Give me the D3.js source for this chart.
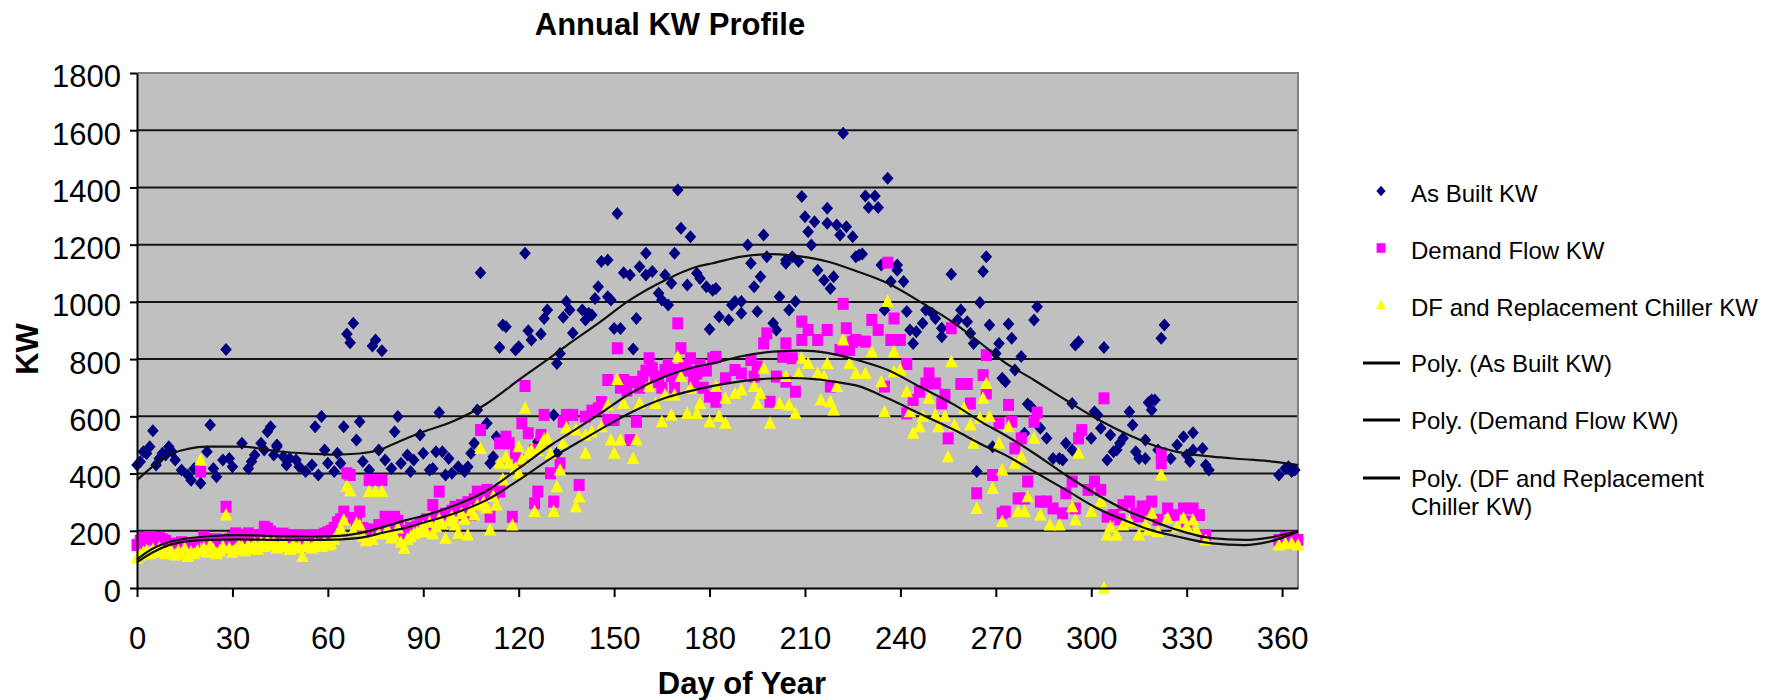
<!DOCTYPE html>
<html>
<head>
<meta charset="utf-8">
<script src="https://cdn.jsdelivr.net/npm/d3@7"></script>
<style>
  body { margin: 0; background: #fff; }
  svg text { font-family: "Liberation Sans", Arial, Helvetica, sans-serif; }
</style>
</head>
<body>
<svg id="chart" width="1771" height="700"></svg>
<script>
/*
 Annual KW profile - scatter of daily peak KW with polynomial trendlines
*/

const xTicks = [0, 30, 60, 90, 120, 150, 180, 210, 240, 270, 300, 330, 360];
const yTicks = [0, 200, 400, 600, 800, 1000, 1200, 1400, 1600, 1800];
const seriesNames = ["As Built KW", "Demand Flow KW", "DF and Replacement Chiller KW"];
const trendNames = [["Poly. (As Built KW)"], ["Poly. (Demand Flow KW)"],
                    ["Poly. (DF and Replacement", "Chiller KW)"]];

// [day of year, KW]
const asBuiltKW = [
  [0,430],[1,441],[2,476],[3,470],[4,494],[5,550],[6,430],[7,453],[8,471],[9,465],[10,494],[11,476],[12,447],[14,412],[16,395],[17,377],[18,418],[20,366],[22,476],[23,570],[24,418],[25,389],[27,447],[28,834],[29,453],[30,424],[33,506],[35,418],[36,442],[37,465],[39,506],[40,482],[41,546],[42,564],[43,465],[44,500],
  [44,494],[46,459],[47,430],[48,453],[50,447],[51,424],[53,407],[55,430],[56,564],[57,395],[58,599],[59,482],[60,436],[62,407],[63,471],[64,436],[65,564],[66,888],[67,857],[68,925],[69,517],[70,581],[71,442],[73,412],[74,846],[75,867],[76,482],[77,829],[78,447],[80,418],[81,546],[82,599],[83,436],[85,465],[86,407],[87,447],[89,535],[90,471],
  [92,412],[93,418],[94,476],[95,613],[96,476],[97,395],[98,453],[99,401],[101,424],[103,407],[104,424],[105,471],[106,506],[107,622],[108,1102],[110,576],[111,436],[112,459],[113,529],[114,841],[115,919],[116,913],[119,832],[120,843],[122,1170],[123,899],[124,867],[126,511],[127,888],[128,942],[129,972],[131,605],[132,785],[132,471],[133,820],
  [134,946],[135,1001],[136,972],[137,891],[140,972],[141,937],[142,960],[143,954],[144,1012],[145,1053],[146,1141],[148,1146],[148,1018],[149,1007],[150,907],[151,1309],[152,907],[153,1102],[155,1094],[156,835],[157,942],[158,1123],[160,1094],[160,1170],[162,1106],[164,1030],[165,1007],[166,1094],[167,989],[168,1065],[169,1170],[170,1391],[171,1257],[173,1059],[174,1228],[176,1100],[177,1082],[179,1053],[180,904],[181,1041],
  [182,1047],[183,948],[186,937],[187,989],[188,1001],[190,960],[190,1001],[192,1199],[193,1135],[194,1053],[195,966],[196,1088],[197,1234],[198,1158],[200,925],[201,902],[202,1018],[204,1146],[204,1135],[205,972],[206,1158],[207,1001],[208,1141],[209,1368],[210,1298],[211,1245],[212,1199],[213,1280],[214,1111],[216,1076],[217,1327],[217,1275],[218,1047],[219,1088],[220,1269],[221,1234],[222,1589],[223,1263],[225,1228],[226,1158],
  [227,1164],[228,1167],[229,1370],[230,1330],[232,1370],[233,1330],[234,1129],[235,972],[236,1432],[237,1071],[239,1129],[239,1111],[241,1071],[242,966],[243,902],[244,855],[245,896],[247,925],[248,972],[250,960],[251,942],[253,908],[253,878],[256,1097],[258,937],[259,972],[261,931],[262,890],[263,855],[264,407],[265,998],[266,1106],[267,1158],[268,919],[269,494],[270,820],[271,855],[272,733],
  [273,721],[274,923],[275,873],[276,762],[278,809],[279,541],[280,643],[281,634],[282,937],[283,983],[284,558],[286,523],[288,453],[290,453],[291,447],[292,506],[294,645],[294,482],[295,849],[296,861],[300,523],[301,616],[302,605],[303,558],[304,841],[305,447],[306,535],[307,476],[308,482],[309,506],[310,523],[312,616],[313,570],[314,476],[315,453],
  [317,453],[317,517],[318,648],[319,622],[319,657],[320,657],[321,482],[322,873],[323,919],[325,453],[327,500],[329,529],[330,465],[331,442],[332,482],[332,543],[335,488],[336,430],[337,412],
  [359,395],[361,418],[362,424],[363,407],[364,412]
];

const demandFlowKW = [
  [0,150],[1,165],[2,175],[3,170],[4,178],[5,172],[6,168],[7,175],[8,170],[9,165],[10,150],[11,145],[12,155],[13,150],[14,160],[15,145],[16,140],[17,150],[18,155],[20,407],[21,179],[22,170],[23,165],[24,160],[25,170],[26,160],[27,165],[28,284],[29,170],[30,175],[31,191],[32,185],[33,175],[34,180],[35,191],[36,185],[37,175],[38,180],[39,185],[40,214],[41,208],[42,197],[43,190],[44,185],[45,180],[46,190],[47,178],[48,185],[49,180],[50,175],[51,185],[52,170],[53,180],[54,175],[55,185],[56,180],[57,175],[58,185],[59,190],[60,195],[61,200],[62,210],[63,230],[64,240],[65,267],[66,401],[67,395],[68,245],[69,230],[70,267],[71,210],[72,200],[73,377],[74,205],[75,377],[76,220],[77,377],[78,249],[79,230],[80,215],[81,249],[82,235],[83,200],[84,180],[85,190],[86,210],[87,200],[88,215],[89,225],[90,230],
  [91,240],[92,220],[93,290],[94,250],[95,337],[96,232],[97,260],[98,245],[99,270],[100,284],[101,280],[102,290],[103,255],[104,300],[105,255],[106,310],[107,337],[108,552],[109,320],[110,343],[111,249],[112,330],[114,337],[114,506],[116,529],[117,506],[118,249],[119,471],[120,447],[121,576],[122,706],[123,541],[125,482],[125,296],[126,337],[127,535],[128,605],[130,401],[131,302],[133,436],[134,581],[135,605],
  [137,605],[139,360],[141,599],[143,620],[145,628],[146,650],[148,587],[148,727],[150,587],[151,838],[152,700],[153,727],[154,690],[155,517],[156,720],[157,581],[158,700],[159,739],[160,760],[161,803],[162,768],[163,740],[164,720],[165,700],[166,762],[167,780],[168,740],[169,700],[170,925],[170,762],[171,838],[172,780],[173,760],[174,803],[175,720],[176,750],[177,780],[178,700],[179,760],[180,669],[181,803],
  [182,651],[182,680],[182,808],[185,733],[188,762],[190,750],[193,797],[194,739],[195,774],[197,855],[198,890],[199,651],[201,739],[203,808],[204,855],[204,721],[206,803],[207,686],[209,931],[209,867],[211,902],[214,867],[217,902],[218,704],[221,832],[222,993],[223,908],[224,832],[225,861],[226,867],
  [229,861],[231,937],[233,902],[235,704],[236,1137],[237,867],[238,942],[240,867],[242,783],[242,610],[244,657],[246,686],[248,715],[249,750],[251,715],[253,645],[254,675],[255,523],[256,908],[259,713],[261,713],[262,645],[264,331],[266,744],[267,814],[267,680],[269,395],[271,576],[272,261],
  [273,267],[274,640],[275,581],[276,488],[277,313],[278,523],[279,313],[280,372],[282,581],[283,613],[284,302],[286,302],[288,278],[291,261],[292,331],[294,372],[295,278],[296,523],[297,552],[299,343],[301,372],[303,343],[304,663],[305,249],[307,255],[309,240],[310,290],[312,302],[314,261],[315,250],[316,285],[317,273],
  [319,302],[321,238],[322,436],[322,471],[324,278],[326,255],[329,278],[330,232],[332,278],[334,255],[336,185],
  [359,168],[361,174],[363,179],[365,168]
];

const dfReplacementKW = [
  [0,105],[1,115],[2,125],[3,130],[4,120],[5,135],[6,125],[7,140],[8,130],[9,120],[10,135],[11,125],[12,115],[13,130],[14,120],[15,140],[16,110],[17,125],[18,120],[19,130],[20,447],[21,140],[22,125],[23,150],[24,135],[25,120],[26,130],[27,145],[28,255],[29,140],[30,125],[31,135],[32,150],[33,145],[34,130],[35,150],[36,140],[37,155],[38,135],[39,160],[40,145],[41,165],[42,150],[43,160],[44,140],[45,150],[46,155],[47,145],[48,135],[49,150],[50,140],[51,145],[52,110],[53,150],[54,145],[55,140],[56,155],[57,150],[58,145],[59,160],[60,150],[61,155],[62,170],[63,190],[64,210],[65,238],[66,356],[67,340],[68,200],[69,226],[70,220],[71,180],[72,165],[73,337],[74,170],[75,337],[76,190],[77,337],[78,190],[79,200],[80,175],[81,185],[82,210],[83,160],[84,139],[85,170],[86,180],[87,190],[88,195],[89,200],[90,215],
  [91,197],[92,230],[93,190],[94,214],[95,240],[96,225],[97,174],[98,235],[99,250],[100,220],[101,191],[102,260],[103,240],[104,185],[105,270],[106,255],[107,290],[108,488],[109,300],[110,280],[111,203],[112,320],[113,290],[114,436],[115,380],[116,459],[117,436],[118,220],[119,420],[120,401],[120,494],[121,450],[122,628],[123,470],[124,482],[125,267],[126,480],[127,500],[128,520],[129,523],[130,470],[131,267],[132,354],[133,412],[134,506],[135,560],
  [138,552],[138,284],[139,319],[141,535],[141,471],[143,546],[146,564],[148,640],[149,517],[150,471],[151,729],[152,517],[153,645],[156,453],[157,517],[158,645],[161,704],[163,645],[165,581],[166,675],[168,605],[169,675],[170,808],[171,739],[173,610],[174,698],[176,610],[177,645],[180,581],
  [182,704],[183,599],[185,663],[185,576],[188,680],[190,692],[194,704],[195,645],[196,680],[197,768],[199,576],[202,645],[204,739],[205,640],[207,610],[208,750],[209,803],[211,785],[214,750],[215,657],[216,739],[217,785],[218,651],[219,622],[220,704],[222,867],[224,785],
  [226,750],[229,750],[231,826],[234,721],[235,616],[236,1001],[238,826],[238,756],[240,762],[242,686],[243,616],[244,541],[246,564],[247,599],[249,663],[251,605],[252,564],[254,599],[255,459],[256,791],[257,570],[260,628],[262,570],[263,506],[264,278],[265,593],[266,663],[267,715],[268,599],[269,348],[271,506],[272,412],[272,232],
  [274,564],[276,436],[277,267],[278,459],[279,267],[280,319],[282,523],[284,255],[287,220],[290,220],[294,284],[295,238],[296,471],[300,267],[303,302],[304,0],[305,185],[306,214],[308,185],[310,220],[312,232],[315,185],[317,220],
  [318,203],[319,261],[321,197],[322,395],[324,244],[327,214],[329,244],[330,214],[332,238],[333,203],[336,168],
  [359,150],[361,156],[363,156],[365,150]
];

// polynomial trendlines
const asBuiltPoly = [[0,377],[5,425],[11,470],[16,486],[22,494],[33,494],[44,478],[54,470],[62,466],[70,470],[76,482],[83,515],[90,546],[99,581],[110,645],[120,727],[131,814],[136,855],[145,925],[155,1007],[166,1076],[176,1123],[181,1135],[190,1158],[200,1167],[209,1158],[217,1141],[226,1108],[236,1065],[247,995],[257,925],[267,840],[272,795],[282,727],[292,657],[302,590],[313,529],[318,505],[327,476],[338,459],[348,450],[357,442],[365,430]];
const demandFlowPoly = [[0,100],[5,138],[10,160],[15,172],[22,180],[32,185],[44,181],[55,180],[62,181],[70,192],[78,215],[85,238],[90,252],[99,285],[110,340],[120,418],[131,506],[136,541],[145,605],[155,680],[166,739],[176,774],[181,785],[190,810],[200,826],[209,830],[217,822],[227,795],[236,762],[246,704],[257,640],[267,570],[272,540],[282,471],[292,395],[302,325],[313,261],[318,240],[327,203],[338,174],[348,168],[356,176],[365,200]];
const dfReplacementPoly = [[0,90],[5,125],[10,150],[15,162],[22,168],[32,170],[44,168],[55,168],[62,169],[70,175],[78,195],[85,212],[90,228],[99,258],[110,308],[120,377],[131,459],[136,492],[145,550],[155,612],[166,664],[176,694],[186,716],[196,730],[205,734],[213,730],[222,716],[226,708],[236,663],[246,610],[257,552],[267,494],[272,470],[282,407],[292,343],[302,278],[313,226],[318,205],[327,180],[338,156],[348,150],[356,162],[365,197]];

const colors = ["#000080", "#ff00ff", "#ffff00"];
const shapes = [
  "M0,-6.5L5.8,0L0,6.5L-5.8,0Z",    // diamond
  "M-5.5,-6H5.5V6H-5.5Z",           // square
  "M0,-7L6.2,5.5L-6.2,5.5Z"         // triangle
];

const plot = { left: 137, right: 1298, top: 73, bottom: 588 };
const fontSize = 31;

const svg = d3.select("#chart");

const xscale = d3.scaleLinear().domain([0, 365]).range([plot.left, plot.right]);
const yscale = d3.scaleLinear().domain([0, 1800]).range([plot.bottom, plot.top]);

// plot area
svg.append("rect")
    .attr("x", plot.left)
    .attr("y", plot.top)
    .attr("width", plot.right - plot.left)
    .attr("height", plot.bottom - plot.top)
    .attr("fill", "#c0c0c0");

svg.append("g")
    .selectAll("line")
    .data(yTicks.filter(v => v > 0 && v < 1800))
    .join("line")
    .attr("x1", plot.left)
    .attr("x2", plot.right)
    .attr("y1", d => yscale(d))
    .attr("y2", d => yscale(d))
    .attr("stroke", "#141414")
    .attr("stroke-width", 2);

svg.append("path")
    .attr("d", `M${plot.left},${plot.top}H${plot.right}V${plot.bottom}`)
    .attr("fill", "none")
    .attr("stroke", "#808080")
    .attr("stroke-width", 2);

// scatter series
[asBuiltKW, demandFlowKW, dfReplacementKW].forEach((data, i) => {
    svg.append("g")
        .attr("fill", colors[i])
        .selectAll("path")
        .data(data)
        .join("path")
        .attr("transform", d => `translate(${xscale(d[0])},${yscale(d[1])})`)
        .attr("d", shapes[i]);
});

// trendlines
const line = d3.line()
    .x(d => xscale(d[0]))
    .y(d => yscale(d[1]))
    .curve(d3.curveMonotoneX);

[asBuiltPoly, demandFlowPoly, dfReplacementPoly].forEach(data => {
    svg.append("path")
        .datum(data)
        .attr("d", line)
        .attr("fill", "none")
        .attr("stroke", "#111")
        .attr("stroke-width", 2.2);
});

// axes
svg.append("g")
    .attr("transform", `translate(${plot.left},0)`)
    .call(d3.axisLeft(yscale).tickValues(yTicks).tickFormat(d3.format("d"))
        .tickSize(7).tickPadding(9).tickSizeOuter(0))
    .call(g => g.selectAll("text").attr("dy", "0.45em"))
    .call(styleAxis);

svg.append("g")
    .attr("transform", `translate(0,${plot.bottom})`)
    .call(d3.axisBottom(xscale).tickValues(xTicks).tickFormat(d3.format("d"))
        .tickSize(9).tickPadding(30).tickSizeOuter(0))
    .call(styleAxis);

function styleAxis(g) {
    g.attr("font-size", fontSize)
        .attr("font-family", null);
    g.select(".domain").attr("stroke", "#000").attr("stroke-width", 2);
    g.selectAll(".tick line").attr("stroke", "#000").attr("stroke-width", 2);
    g.selectAll(".tick text").attr("fill", "#000");
}

// titles
svg.append("text")
    .attr("x", 670)
    .attr("y", 35)
    .attr("text-anchor", "middle")
    .attr("font-size", fontSize)
    .attr("font-weight", "bold")
    .text("Annual KW Profile");

svg.append("text")
    .attr("x", 742)
    .attr("y", 694)
    .attr("text-anchor", "middle")
    .attr("font-size", fontSize)
    .attr("font-weight", "bold")
    .text("Day of Year");

svg.append("text")
    .attr("transform", "translate(38,349) rotate(-90)")
    .attr("text-anchor", "middle")
    .attr("font-size", fontSize)
    .attr("font-weight", "bold")
    .text("KW");

// legend
const legend = svg.append("g").attr("font-size", 24);
const rowY = [193, 250, 307, 363, 420, 478];

seriesNames.forEach((name, i) => {
    legend.append("path")
        .attr("transform", `translate(1381,${rowY[i] - 2}) scale(0.8)`)
        .attr("d", shapes[i])
        .attr("fill", colors[i]);
    legend.append("text")
        .attr("x", 1411)
        .attr("y", rowY[i] + 8.5)
        .text(name);
});

trendNames.forEach((lines, i) => {
    var cy = rowY[i + 3];
    legend.append("line")
        .attr("x1", 1363).attr("x2", 1400)
        .attr("y1", cy).attr("y2", cy)
        .attr("stroke", "#000")
        .attr("stroke-width", 3);
    lines.forEach((t, j) => {
        legend.append("text")
            .attr("x", 1411)
            .attr("y", cy + 8.5 + j * 28)
            .text(t);
    });
});
</script>
</body>
</html>
